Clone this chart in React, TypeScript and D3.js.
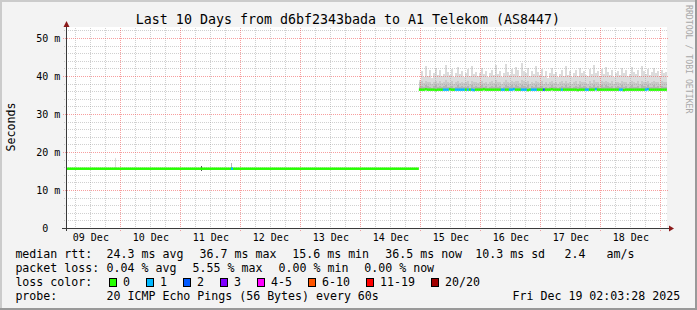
import React from "react";
import * as d3 from "d3";

// ---------------- data ----------------
const TITLE = "Last 10 Days from d6bf2343bada to A1 Telekom (AS8447)";
const startISO = "2025-12-09T02:03:28Z";
const endISO = "2025-12-19T02:03:28Z";
const yAxisMax = 52.63;
const yMajorTicks = [0, 10, 20, 30, 40, 50];
const yTickLabels = ["0", "10 m", "20 m", "30 m", "40 m", "50 m"];
const yMinorStep = 2;
const xTickLabels = ["09 Dec", "10 Dec", "11 Dec", "12 Dec", "13 Dec", "14 Dec", "15 Dec", "16 Dec", "17 Dec", "18 Dec"];

// first period (Dec 9 – Dec 14): 4 h steps
const leftStartISO = "2025-12-09T02:03:28Z";
const leftStepHours = 4;
const leftMedian = [
  15.6, 15.6, 15.6, 15.6, 15.6, 15.6, 15.6, 15.6, 15.6, 15.6, 15.6, 15.6,
  15.6, 15.6, 15.6, 15.6, 15.6, 15.6, 15.6, 15.6, 15.6, 15.6, 15.6, 15.6,
  15.6, 15.6, 15.6, 15.6, 15.6, 15.6, 15.6, 15.6, 15.6, 15.6, 15.6, 15.6,
];
// isolated smoke spikes in the first period
const spikeISO = ["2025-12-09T21:40:00Z", "2025-12-11T08:15:00Z", "2025-12-11T20:15:00Z"];
const spikeTop = [18.5, 16.4, 17.1];
const spikeLow = [15.6, 15.1, 15.6];
const spikeDepth = [0, 3, 2];
const spikeLoss = [0, 0, 1];

// second period (Dec 14 23:12 – Dec 19): 48 min steps
const rightStartISO = "2025-12-14T23:12:00Z";
const rightStepMinutes = 48;
const rightMedian = [
  36.4, 36.4, 36.4, 36.5, 36.4, 36.4, 36.4, 36.4, 36.3, 36.4,
  36.4, 36.4, 36.4, 36.4, 36.4, 36.5, 36.4, 36.4, 36.4, 36.4,
  36.4, 36.4, 36.4, 36.4, 36.4, 36.4, 36.4, 36.3, 36.4, 36.4,
  36.4, 36.4, 36.5, 36.4, 36.4, 36.4, 36.4, 36.4, 36.4, 36.4,
  36.4, 36.4, 36.4, 36.4, 36.4, 36.4, 36.4, 36.5, 36.4, 36.4,
  36.4, 36.4, 36.4, 36.4, 36.3, 36.4, 36.4, 36.4, 36.4, 36.4,
  36.4, 36.4, 36.4, 36.4, 36.4, 36.4, 36.5, 36.4, 36.4, 36.4,
  36.4, 36.4, 36.4, 36.4, 36.4, 36.4, 36.4, 36.4, 36.4, 36.3,
  36.4, 36.4, 36.4, 36.4, 36.4, 36.4, 36.4, 36.4, 36.5, 36.4,
  36.4, 36.4, 36.4, 36.4, 36.4, 36.4, 36.4, 36.4, 36.4, 36.4,
  36.4, 36.4, 36.3, 36.4, 36.4, 36.4, 36.4, 36.4, 36.4, 36.4,
  36.4, 36.4, 36.4, 36.4, 36.5, 36.4, 36.4, 36.4, 36.4, 36.4,
  36.4, 36.4, 36.4, 36.4,
];
const rightLoss = [
  0, 0, 0, 0, 0, 0, 0, 0, 0, 0,
  0, 0, 1, 1, 1, 0, 0, 0, 1, 1,
  1, 1, 1, 0, 1, 0, 1, 1, 0, 0,
  0, 0, 0, 0, 0, 0, 0, 0, 0, 0,
  0, 1, 1, 0, 0, 1, 1, 1, 0, 0,
  0, 1, 1, 1, 0, 0, 1, 1, 1, 0,
  0, 0, 2, 0, 0, 0, 0, 0, 0, 0,
  0, 1, 0, 0, 0, 0, 0, 0, 0, 0,
  0, 0, 0, 1, 1, 0, 0, 0, 1, 0,
  0, 0, 0, 0, 0, 0, 0, 0, 0, 0,
  1, 1, 0, 0, 0, 0, 0, 0, 0, 0,
  0, 0, 0, 1, 1, 0, 0, 0, 0, 0,
  0, 0, 0, 0,
];
const smokeTop = [
  38.9, 41.2, 39.8, 42.6, 40.1, 41.5, 39.6, 40.8, 42.1, 40.3,
  41.7, 39.9, 40.6, 42.9, 41.0, 40.2, 41.8, 39.7, 40.9, 42.3,
  40.5, 41.3, 39.8, 40.7, 41.9, 40.0, 42.6, 40.4, 41.1, 39.9,
  40.8, 42.0, 40.6, 41.4, 39.7, 40.9, 41.6, 40.2, 42.8, 40.5,
  41.2, 39.8, 40.7, 43.1, 41.0, 40.3, 41.9, 40.6, 42.4, 41.5,
  40.1, 43.3, 41.2, 40.8, 42.0, 39.9, 41.4, 40.5, 42.7, 41.1,
  40.2, 41.8, 40.0, 41.3, 39.6, 40.9, 42.2, 40.4, 41.0, 39.8,
  40.6, 41.7, 40.1, 42.5, 40.3, 41.2, 39.7, 40.8, 41.5, 40.0,
  42.1, 40.7, 41.3, 40.2, 39.9, 41.8, 40.5, 42.9, 40.9, 41.4,
  40.0, 41.9, 40.6, 42.3, 41.1, 40.2, 41.6, 39.8, 40.7, 41.2,
  40.3, 42.0, 40.8, 41.5, 39.9, 40.6, 42.4, 41.0, 40.4, 41.7,
  40.1, 42.6, 41.3, 40.5, 41.9, 40.2, 41.0, 42.2, 40.7, 41.4,
  40.0, 41.6, 40.8, 41.1,
];
const smokeMid = [
  38.3, 38.6, 38.1, 38.8, 38.4, 38.5, 38.0, 38.4, 38.7, 38.2,
  38.6, 38.1, 38.4, 38.9, 38.5, 38.2, 38.6, 38.0, 38.3, 38.7,
  38.2, 38.5, 38.1, 38.4, 38.6, 38.0, 38.8, 38.3, 38.5, 38.1,
  38.4, 38.7, 38.2, 38.5, 37.9, 38.3, 38.6, 38.1, 38.9, 38.4,
  38.5, 38.0, 38.3, 38.9, 38.5, 38.2, 38.7, 38.3, 38.8, 38.6,
  38.2, 39.0, 38.6, 38.4, 38.7, 38.0, 38.5, 38.2, 38.8, 38.4,
  38.1, 38.6, 38.0, 38.4, 37.9, 38.3, 38.7, 38.2, 38.4, 38.0,
  38.3, 38.6, 38.1, 38.8, 38.2, 38.5, 37.9, 38.3, 38.6, 38.0,
  38.7, 38.3, 38.5, 38.1, 38.0, 38.6, 38.2, 38.9, 38.4, 38.5,
  38.0, 38.7, 38.3, 38.8, 38.4, 38.1, 38.6, 37.9, 38.3, 38.5,
  38.1, 38.7, 38.4, 38.5, 38.0, 38.3, 38.8, 38.4, 38.2, 38.6,
  38.0, 38.8, 38.5, 38.3, 38.7, 38.1, 38.4, 38.8, 38.3, 38.5,
  38.0, 38.6, 38.3, 38.4,
];
const smokeInner = [
  37.2, 37.4, 37.0, 37.5, 37.3, 37.2, 36.9, 37.3, 37.5, 37.1,
  37.4, 37.0, 37.3, 37.6, 37.2, 37.1, 37.4, 36.9, 37.2, 37.5,
  37.1, 37.3, 37.0, 37.2, 37.4, 36.9, 37.5, 37.2, 37.3, 37.0,
  37.2, 37.5, 37.1, 37.3, 36.9, 37.2, 37.4, 37.0, 37.6, 37.2,
  37.3, 36.9, 37.2, 37.6, 37.3, 37.1, 37.5, 37.2, 37.5, 37.4,
  37.1, 37.7, 37.4, 37.2, 37.5, 36.9, 37.3, 37.1, 37.6, 37.2,
  37.0, 37.4, 36.9, 37.2, 36.9, 37.1, 37.5, 37.1, 37.2, 36.9,
  37.2, 37.4, 37.0, 37.6, 37.1, 37.3, 36.9, 37.2, 37.4, 37.0,
  37.5, 37.2, 37.3, 37.0, 36.9, 37.4, 37.1, 37.6, 37.2, 37.3,
  36.9, 37.5, 37.2, 37.5, 37.3, 37.0, 37.4, 36.9, 37.2, 37.3,
  37.0, 37.5, 37.2, 37.3, 36.9, 37.2, 37.6, 37.2, 37.1, 37.4,
  36.9, 37.6, 37.3, 37.2, 37.5, 37.0, 37.2, 37.5, 37.1, 37.3,
  36.9, 37.4, 37.2, 37.2,
];

const lossLabels = ["0", "1", "2", "3", "4-5", "6-10", "11-19", "20/20"];
const lossColors = ["#26ff00", "#00b8ff", "#0059ff", "#7e00ff", "#ff00ff", "#ff5500", "#ff0000", "#a10000"];

const rttLabel = "median rtt:";
const rttStats = ["24.3 ms avg", "36.7 ms max", "15.6 ms min", "36.5 ms now", "10.3 ms sd", "2.4", "am/s"];
const lossLabel = "packet loss:";
const lossStats = ["0.04 % avg", "5.55 % max", "0.00 % min", "0.00 % now"];
const colorLabel = "loss color:";
const probeLabel = "probe:";
const probeText = "20 ICMP Echo Pings (56 Bytes) every 60s";
const stampText = "Fri Dec 19 02:03:28 2025";
const yAxisTitle = "Seconds";
const credit = "RRDTOOL / TOBI OETIKER";

// ---------------- component ----------------
const MONO = "'DejaVu Sans Mono', monospace";

type Row = { t: Date; m: number; top: number; mid: number; inner: number; loss: number };

export default function App() {
  const W = 697, H = 310;
  const X0 = 66, X1 = 666, YB = 228, YT = 28;
  const t0 = new Date(startISO), t1 = new Date(endISO);
  const x = d3.scaleUtc().domain([t0, t1]).range([X0, X1]);
  const y = d3.scaleLinear().domain([0, yAxisMax]).range([YB, YT]);
  const px = (d: Date) => Math.floor(x(d)) + 0.5;
  const py = (v: number) => Math.round(y(v)) + 0.5;

  const dayMarks = d3.utcDay.range(d3.utcDay.ceil(t0), t1);
  const sixMarks = d3.utcHour.every(6)!.range(t0, t1).filter((d) => d.getUTCHours() !== 0);
  const noons = d3.utcDay.range(d3.utcDay.floor(t0), d3.utcDay.floor(t1)).map((d) => d3.utcHour.offset(d, 12));
  const yMinor = d3.range(yMinorStep, yAxisMax, yMinorStep).filter((v) => v % 10 !== 0);
  const yMajor = yMajorTicks.filter((v) => v > 0);

  const rStart = new Date(rightStartISO);
  const rStepMs = rightStepMinutes * 60000;
  const rows: Row[] = rightMedian.map((m, i) => ({
    t: new Date(rStart.getTime() + i * rStepMs),
    m, top: smokeTop[i], mid: smokeMid[i], inner: smokeInner[i], loss: rightLoss[i],
  }));
  const last = rows[rows.length - 1];
  const rowsExt = [...rows, { ...last, t: new Date(last.t.getTime() + rStepMs) }];

  const areaOf = (key: "top" | "mid" | "inner") =>
    d3.area<Row>().x((d) => x(d.t)).y0((d) => y(d.m) + 0.5).y1((d) => y(d[key])).curve(d3.curveStepAfter)(rowsExt) || "";

  const lStart = new Date(leftStartISO);
  const lStepMs = leftStepHours * 3600000;
  const leftSegs = leftMedian.map((m, i) => {
    const a = lStart.getTime() + i * lStepMs;
    const b = Math.min(a + lStepMs, rStart.getTime());
    return { a: new Date(a), b: new Date(b), m };
  });

  const shades = ["#dcdcdc", "#c9c9c9", "#b4b4b4", "#555555"];

  const lossBoxes: { bx: number; label: string; color: string }[] = [];
  {
    let bx = 109;
    lossLabels.forEach((l, i) => {
      lossBoxes.push({ bx, label: l, color: lossColors[i] });
      bx += 14.6 + 7 * l.length + 15.4;
    });
  }
  const rttX = [106.6, 199.6, 292.3, 385.3, 475.3, 564.6, 606.6];
  const lossX = [106.6, 192.6, 278.6, 364.3];
  const rowY = [258, 272, 286, 300];

  const gridMinor = "rgba(150,150,150,0.45)";
  const gridMajor = "rgba(240,80,80,0.55)";

  return (
    <div style={{ position: "fixed", left: 0, top: 0 }}>
      <svg width={W} height={H} style={{ display: "block" }} fontFamily={MONO}>
        <defs>
          <clipPath id="plot">
            <rect x={X0 + 1} y={YT} width={X1 - X0} height={YB - YT} />
          </clipPath>
        </defs>
        <rect x={0} y={0} width={W} height={H} fill="#f3f3f3" />
        {/* border shading */}
        <rect x={0} y={0} width={W} height={2} fill="#cbcbcb" />
        <rect x={0} y={0} width={2} height={H} fill="#cbcbcb" />
        <rect x={0} y={H - 2} width={W} height={2} fill="#999999" />
        <rect x={W - 2} y={0} width={2} height={H} fill="#999999" />
        {/* canvas */}
        <rect x={X0} y={YT - 1} width={X1 - X0 + 1} height={YB - YT + 1} fill="#ffffff" />

        {/* smoke */}
        <g clipPath="url(#plot)" shapeRendering="crispEdges">
          <path d={areaOf("top")} fill={shades[0]} />
          <path d={areaOf("mid")} fill={shades[1]} />
          <path d={areaOf("inner")} fill={shades[2]} />
          {spikeISO.map((s, i) => {
            const d = new Date(s);
            return (
              <rect key={s} x={Math.floor(x(d))} width={1} y={y(spikeTop[i])} height={y(spikeLow[i]) - y(spikeTop[i])}
                fill={shades[spikeDepth[i]]} />
            );
          })}
        </g>

        {/* grid */}
        <g strokeWidth={1} strokeDasharray="1,1" shapeRendering="crispEdges">
          {sixMarks.map((d) => (
            <line key={"vm" + d.getTime()} x1={px(d)} x2={px(d)} y1={YT} y2={YB + 2} stroke={gridMinor} />
          ))}
          {yMinor.map((v) => (
            <line key={"hm" + v} x1={X0 - 2} x2={X1 + 2} y1={py(v)} y2={py(v)} stroke={gridMinor} />
          ))}
          {dayMarks.map((d) => (
            <line key={"vM" + d.getTime()} x1={px(d)} x2={px(d)} y1={YT} y2={YB + 3} stroke={gridMajor} />
          ))}
          {yMajor.map((v) => (
            <line key={"hM" + v} x1={X0 - 3} x2={X1 + 2} y1={py(v)} y2={py(v)} stroke={gridMajor} />
          ))}
        </g>

        {/* median line coloured by loss */}
        <g clipPath="url(#plot)" strokeWidth={2.5}>
          {leftSegs.map((s, i) => (
            <line key={"l" + i} x1={x(s.a)} x2={x(s.b)} y1={y(s.m)} y2={y(s.m)} stroke={lossColors[0]} />
          ))}
          {spikeISO.map((s, i) =>
            spikeLoss[i] > 0 ? (
              <line key={"sl" + i} x1={Math.floor(x(new Date(s)))} x2={Math.floor(x(new Date(s))) + 2}
                y1={y(leftMedian[0])} y2={y(leftMedian[0])} stroke={lossColors[spikeLoss[i]]} />
            ) : null
          )}
          {rows.map((r, i) => (
            <line key={"r" + i} x1={x(r.t)} x2={x(new Date(r.t.getTime() + rStepMs))} y1={y(r.m)} y2={y(r.m)}
              stroke={lossColors[r.loss]} />
          ))}
        </g>

        {/* axes */}
        <g shapeRendering="crispEdges" stroke="#3a3a3a" strokeWidth={1}>
          <line x1={X0 + 0.5} x2={X0 + 0.5} y1={YT - 2} y2={YB + 3} />
          <line x1={X0 - 4} x2={X1 + 4} y1={YB + 0.5} y2={YB + 0.5} />
        </g>
        <polygon points={`${X0 + 0.5},${YT - 7} ${X0 - 2.5},${YT - 1} ${X0 + 3.5},${YT - 1}`} fill="#8b1a1a" />
        <polygon points={`${X1 + 8},${YB + 0.5} ${X1 + 3},${YB - 2.5} ${X1 + 3},${YB + 3.5}`} fill="#8b1a1a" />

        {/* y tick labels */}
        <g fontSize={10} fill="#000" textAnchor="end">
          {yMajorTicks.map((v, i) => (
            <text key={"yl" + v} x={v === 0 ? 48.3 : 60.3} y={Math.round(y(v)) + 4}>{yTickLabels[i]}</text>
          ))}
        </g>
        {/* x tick labels */}
        <g fontSize={10} fill="#000" textAnchor="middle">
          {noons.map((d, i) => (
            <text key={"xl" + i} x={x(d)} y={241}>{xTickLabels[i]}</text>
          ))}
        </g>

        {/* titles */}
        <text x={348} y={24} fontSize={13.3} textAnchor="middle" fill="#000">{TITLE}</text>
        <text transform="translate(15,127) rotate(-90)" fontSize={11.6} textAnchor="middle" fill="#000">{yAxisTitle}</text>
        <text transform="translate(686,5) rotate(90)" fontSize={8.2} fill="#a8a8a8">{credit}</text>

        {/* legend */}
        <g fontSize={11.6} fill="#000" style={{ whiteSpace: "pre" }}>
          <text x={15.4} y={rowY[0]}>{rttLabel}</text>
          {rttStats.map((s, i) => (
            <text key={"rs" + i} x={rttX[i]} y={rowY[0]}>{s}</text>
          ))}
          <text x={15.4} y={rowY[1]}>{lossLabel}</text>
          {lossStats.map((s, i) => (
            <text key={"ls" + i} x={lossX[i]} y={rowY[1]}>{s}</text>
          ))}
          <text x={15.4} y={rowY[2]}>{colorLabel}</text>
          {lossBoxes.map((b) => (
            <g key={b.label}>
              <rect x={b.bx + 0.5} y={278.5} width={7} height={8} fill={b.color} stroke="#000" strokeWidth={1}
                shapeRendering="crispEdges" />
              <text x={b.bx + 14} y={rowY[2]}>{b.label}</text>
            </g>
          ))}
          <text x={15.4} y={rowY[3]}>{probeLabel}</text>
          <text x={106.6} y={rowY[3]}>{probeText}</text>
          <text x={512.6} y={rowY[3]}>{stampText}</text>
        </g>
      </svg>
    </div>
  );
}
